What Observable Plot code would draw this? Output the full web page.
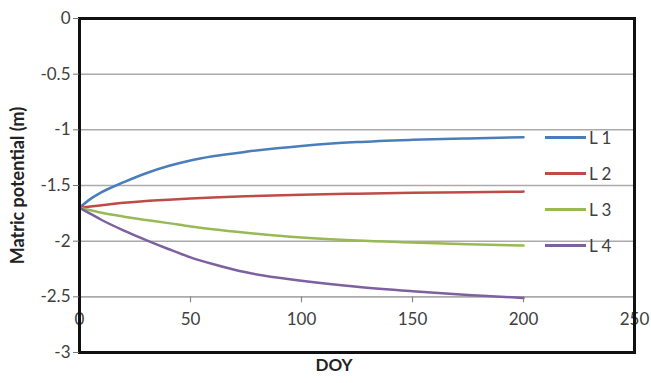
<!DOCTYPE html>
<html><head><meta charset="utf-8">
<script src="https://cdn.jsdelivr.net/npm/d3@7"></script>
<script src="https://cdn.jsdelivr.net/npm/@observablehq/plot@0.6"></script>
<style>
body{margin:0;background:#fff;}
#wrap{position:relative;width:651px;height:383px;font-family:Lato,sans-serif;}
#legend{position:absolute;left:545px;top:119px;}
.item{display:flex;align-items:center;height:36px;}
.sw{width:41px;height:3px;margin-right:3px;}
.lab{font-size:17px;color:#404040;line-height:1;}
</style></head><body>
<div id="wrap"><div id="chart"></div><div id="legend"></div></div>
<script>
const seriesNames = ["L 1", "L 2", "L 3", "L 4"];
const seriesColors = ["#4a7ebb", "#be4b48", "#98b954", "#7d60a0"];
const doy = [0, 5, 10, 20, 30, 40, 50, 60, 75, 100, 125, 150, 175, 200];
const l1 = [-1.70, -1.62, -1.56, -1.47, -1.39, -1.325, -1.275, -1.238, -1.197, -1.145, -1.11, -1.09, -1.077, -1.067];
const l2 = [-1.70, -1.688, -1.677, -1.656, -1.64, -1.628, -1.617, -1.608, -1.597, -1.582, -1.573, -1.566, -1.56, -1.555];
const l3 = [-1.70, -1.722, -1.745, -1.78, -1.81, -1.838, -1.868, -1.893, -1.925, -1.968, -1.995, -2.012, -2.027, -2.04];
const l4 = [-1.70, -1.755, -1.81, -1.905, -1.99, -2.07, -2.145, -2.205, -2.28, -2.355, -2.41, -2.45, -2.483, -2.51];
const xTicks = [0, 50, 100, 150, 200, 250];
const yTicks = [0, -0.5, -1, -1.5, -2, -2.5, -3];
const yGrid = [-0.5, -1, -1.5, -2, -2.5];
const xAxisAt = -2.5;
const xTitle = "DOY";
const yTitle = "Matric potential (m)";

const allSeries = [l1, l2, l3, l4];
const table = [];
allSeries.forEach((vals, s) => vals.forEach((v, i) => table.push({series: seriesNames[s], doy: doy[i], value: v})));

const tickShape = {draw(ctx, l) { ctx.moveTo(0, 0); ctx.lineTo(0, -l); }};

const chart = Plot.plot({
  width: 651, height: 383,
  marginLeft: 79, marginRight: 17, marginTop: 18, marginBottom: 31,
  style: {fontFamily: "Lato, sans-serif", background: "#fff"},
  x: {domain: [0, 250]},
  y: {domain: [-3, 0]},
  color: {domain: seriesNames, range: seriesColors},
  marks: [
    Plot.gridY(yGrid, {stroke: "#aaaaaa", strokeOpacity: 1, strokeWidth: 1.5}),
    Plot.ruleY([xAxisAt], {stroke: "#aaaaaa", strokeWidth: 1.5}),
    Plot.vector(xTicks, {x: d => d, y: xAxisAt, length: 5, rotate: 180, anchor: "start", shape: tickShape, stroke: "#888", strokeWidth: 1.2}),
    Plot.text(xTicks, {x: d => d, y: xAxisAt, dy: 23, text: d => String(d), fontSize: 17, fill: "#404040"}),
    Plot.line(table, {x: "doy", y: "value", stroke: "series", strokeWidth: 2.5, curve: "monotone-x"}),
    Plot.frame({stroke: "#111", strokeWidth: 3}),
    Plot.axisY(yTicks, {tickSize: 6, tickPadding: 3, tickFormat: d => String(d), fontSize: 17, stroke: "#777", fill: "#404040", label: null}),
    Plot.axisX([], {label: null}),
    Plot.text([yTitle], {frameAnchor: "left", textAnchor: "middle", rotate: -90, dx: -61, text: d => d, fontWeight: "bold", fontSize: 18, fill: "#222"}),
    Plot.text([xTitle], {frameAnchor: "bottom", dx: -23, dy: 18, text: d => d, fontWeight: "bold", fontSize: 17, fill: "#222"})
  ]
});
document.getElementById("chart").appendChild(chart);

const legend = document.getElementById("legend");
seriesNames.forEach((n, i) => {
  const row = document.createElement("div");
  row.className = "item";
  row.innerHTML = `<div class="sw" style="background:${seriesColors[i]}"></div><span class="lab">${n}</span>`;
  legend.appendChild(row);
});
</script>
</body></html>
